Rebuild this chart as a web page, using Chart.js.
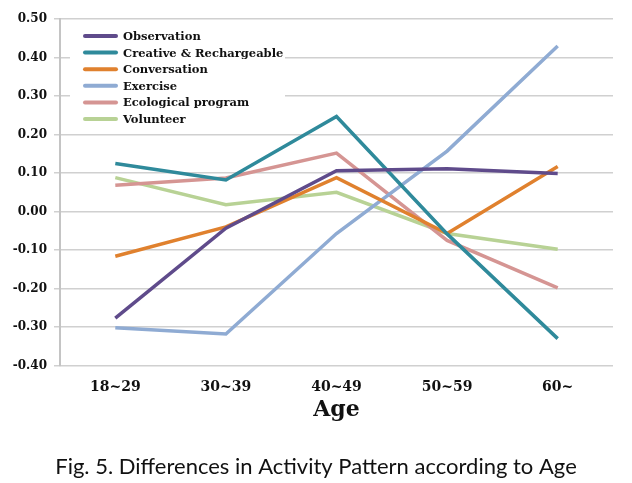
<!DOCTYPE html>
<html>
<head>
<meta charset="utf-8">
<script src="https://cdn.jsdelivr.net/npm/chart.js@4.4.1/dist/chart.umd.min.js"></script>
<style>
  html, body { margin: 0; padding: 0; background: #fff; }
  #wrap { width: 632px; height: 483px; }
</style>
</head>
<body>
<div id="wrap"><canvas id="chartAge"></canvas></div>
<script>
const ageGroups = ['18~29', '30~39', '40~49', '50~59', '60~'];

const observation = [-0.277, -0.043, 0.106, 0.111, 0.099];
const creative = [0.125, 0.082, 0.247, -0.058, -0.330];
const conversation = [-0.116, -0.040, 0.088, -0.057, 0.117];
const exercise = [-0.302, -0.318, -0.057, 0.157, 0.430];
const ecological = [0.068, 0.087, 0.152, -0.075, -0.198];
const volunteer = [0.088, 0.018, 0.050, -0.057, -0.098];

const seriesNames = ['Observation', 'Creative & Rechargeable', 'Conversation', 'Exercise', 'Ecological program', 'Volunteer'];
const seriesColors = ['#5f4b8b', '#2f8a9b', '#e0812e', '#8fabd3', '#d59593', '#b8d295'];
const seriesData = [observation, creative, conversation, exercise, ecological, volunteer];

// legend drawn inside the plot, like the original figure
const insideLegend = {
    id: 'insideLegend',
    beforeDatasetsDraw(chart) {
        const ctx = chart.ctx;
        ctx.save();
        ctx.fillStyle = '#ffffff';
        ctx.fillRect(70, 24, 215, 104);
        ctx.font = 'bold 11.5px "DejaVu Serif"';
        ctx.textBaseline = 'middle';
        chart.data.datasets.forEach((ds, i) => {
            const y = 36 + i * 16.6;
            ctx.strokeStyle = ds.borderColor;
            ctx.lineWidth = 4;
            ctx.lineCap = 'round';
            ctx.beginPath();
            ctx.moveTo(85, y);
            ctx.lineTo(116, y);
            ctx.stroke();
            ctx.fillStyle = '#111';
            ctx.fillText(ds.label, 123, y + 1);
        });
        ctx.restore();
    }
};

const ctx = document.getElementById('chartAge').getContext('2d');
new Chart(ctx, {
    type: 'line',
    data: {
        labels: ageGroups,
        datasets: seriesNames.map((name, i) => ({
            label: name,
            data: seriesData[i],
            borderColor: seriesColors[i],
            backgroundColor: seriesColors[i],
            borderWidth: 3.5,
            pointRadius: 0,
            tension: 0,
            fill: false
        }))
    },
    options: {
        responsive: true,
        maintainAspectRatio: false,
        animation: false,
        layout: { padding: { top: 19, right: 0, left: 0, bottom: 0 } },
        scales: {
            x: {
                offset: true,
                grid: { display: false },
                border: { display: false },
                ticks: {
                    padding: 5,
                    color: '#111',
                    font: { family: '"DejaVu Serif"', size: 14, weight: 'bold' }
                },
                title: {
                    display: true,
                    text: 'Age',
                    color: '#111',
                    padding: { top: 0, bottom: 6 },
                    font: { family: '"DejaVu Serif"', size: 22, weight: 'bold' }
                },
                afterFit(scale) { scale.height = 64; }
            },
            y: {
                min: -0.4,
                max: 0.5,
                grid: { color: '#d0d0d0', lineWidth: 1.5, tickLength: 6 },
                border: { display: true, color: '#c4c4c4', width: 2 },
                ticks: {
                    stepSize: 0.1,
                    padding: 7,
                    color: '#111',
                    font: { family: '"DejaVu Serif"', size: 12, weight: 'bold' },
                    callback: v => v.toFixed(2)
                },
                afterFit(scale) { scale.width = 60; }
            },
            // empty right-hand axis, only to keep the right margin
            yRight: {
                position: 'right',
                min: -0.4,
                max: 0.5,
                grid: { display: false },
                border: { display: false },
                ticks: { display: false },
                afterFit(scale) { scale.width = 19; }
            }
        },
        plugins: {
            legend: { display: false },
            tooltip: { enabled: false },
            title: {
                display: true,
                position: 'bottom',
                text: 'Fig. 5. Differences in Activity Pattern according to Age',
                color: '#111',
                padding: { top: 24, bottom: 3 },
                font: { family: 'Lato', size: 22, weight: 'normal' }
            }
        }
    },
    plugins: [insideLegend]
});
</script>
</body>
</html>
